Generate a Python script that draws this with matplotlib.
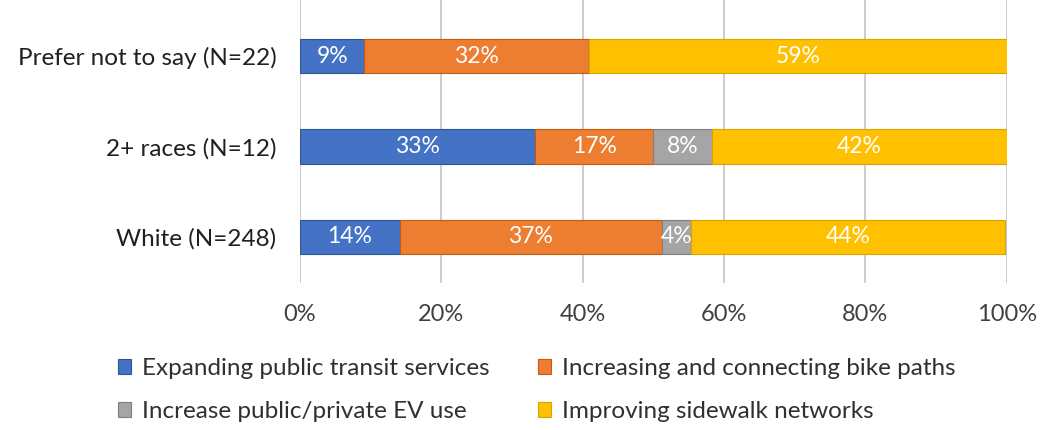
import matplotlib.pyplot as plt

plt.rcParams['font.family'] = ['Lato', 'DejaVu Sans']

groups = ['White (N=248)', '2+ races (N=12)', 'Prefer not to say (N=22)']
series = ['Expanding public transit services',
          'Increasing and connecting bike paths',
          'Increase public/private EV use',
          'Improving sidewalk networks']
# shares in percent, one list per series, same order as groups
transit = [14.1, 33.3, 9.1]
bike = [37.1, 16.7, 31.8]
ev = [4.1, 8.3, 0.0]
sidewalk = [44.4, 41.7, 59.1]
values = [transit, bike, ev, sidewalk]

colors = ['#4472C4', '#ED7D31', '#A5A5A5', '#FFC000']
edges = ['#2F5597', '#C55A11', '#7F7F7F', '#D9A300']

fig = plt.figure(figsize=(10.4, 4.3), dpi=100)
ax = fig.add_axes([0.2885, 0.342, 0.6795, 0.658])

y = list(range(len(groups)))
left = [0.0] * len(groups)
for name, vals, c, ec in zip(series, values, colors, edges):
    bars = ax.barh(y, vals, left=left, height=0.38, color=c, edgecolor=ec,
                   linewidth=0.8, label=name, zorder=3)
    for b, v, l in zip(bars, vals, left):
        if v > 0:
            ax.text(l + v / 2, b.get_y() + b.get_height() / 2, f'{v:.0f}%',
                    ha='center', va='center', color='white', fontsize=16.5, zorder=4)
    left = [a + b for a, b in zip(left, vals)]

ax.set_xlim(0, 100)
ax.set_ylim(-0.51, 2.62)
ax.set_xticks(range(0, 101, 20))
ax.set_xticklabels([f'{t}%' for t in range(0, 101, 20)], fontsize=17, color='#404040')
ax.set_yticks(y)
ax.set_yticklabels(groups, fontsize=17.5, color='#202020')
ax.tick_params(axis='y', length=0, pad=17)
ax.tick_params(axis='x', length=0, pad=15)
ax.grid(axis='x', color='#C8C8C8', linewidth=1.3, zorder=0)
for s in ax.spines.values():
    s.set_visible(False)

# legend fills row by row: transit, bike / EV, sidewalk
handles, labels = ax.get_legend_handles_labels()
order = [0, 2, 1, 3]
fig.legend([handles[i] for i in order], [labels[i] for i in order], ncol=2,
           loc='center left', bbox_to_anchor=(0.092, 0.093),
           frameon=False, fontsize=17.5, handlelength=0.55, handleheight=0.55,
           handletextpad=0.45, columnspacing=2.0, labelspacing=0.9,
           labelcolor='#303030', borderpad=0.4)

fig.savefig('out.png', dpi=100)
